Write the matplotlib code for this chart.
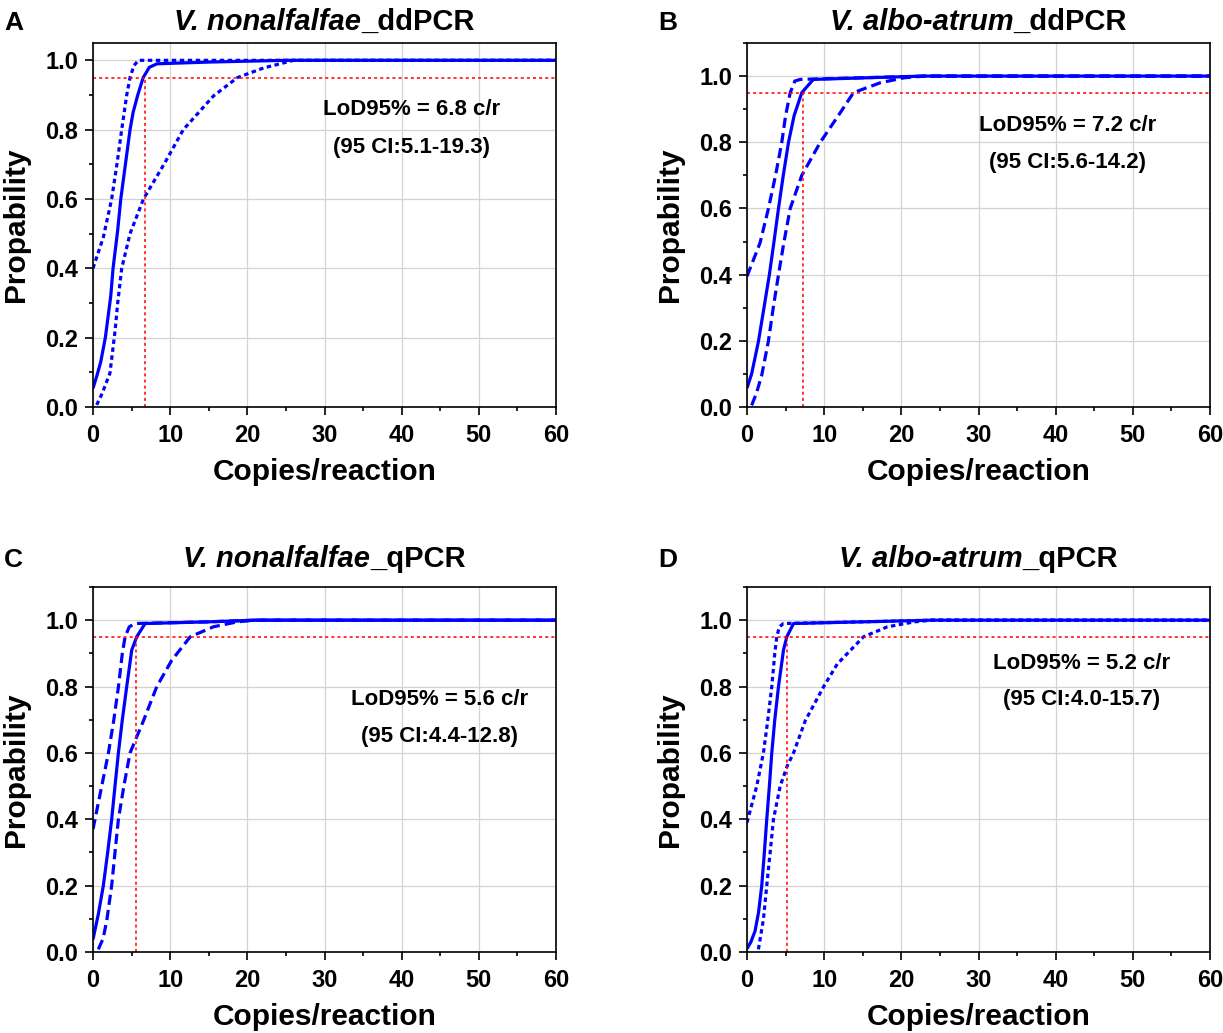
import matplotlib
matplotlib.use("Agg")
import matplotlib.pyplot as plt
from matplotlib.ticker import MultipleLocator

plt.rcParams["font.family"] = ["Liberation Sans", "DejaVu Sans"]
plt.rcParams["font.weight"] = "bold"

# ---- data (x = copies/reaction, y = probability) ----
# panel A : V. nonalfalfae ddPCR
A_mid_x = [0, 0.5, 1.0, 1.6, 2.3, 2.6, 3.2, 3.6, 4.2, 4.8, 5.2, 5.8, 6.5, 7.3, 8.3, 15, 25, 60]
A_mid_y = [0.054, 0.09, 0.13, 0.2, 0.32, 0.4, 0.51, 0.6, 0.7, 0.8, 0.85, 0.9, 0.95, 0.98, 0.99, 0.995, 1.0, 1.0]
A_up_x = [0, 1.34, 2.42, 3.1, 3.72, 4.37, 4.8, 5.3, 5.9, 60]
A_up_y = [0.40, 0.49, 0.6, 0.7, 0.8, 0.9, 0.95, 0.985, 1.0, 1.0]
A_lo_x = [0.48, 1.2, 2.2, 2.86, 3.2, 3.72, 4.8, 6.54, 9.3, 11.7, 15.6, 18.7, 22.1, 26, 60]
A_lo_y = [0.006, 0.04, 0.098, 0.22, 0.3, 0.4, 0.5, 0.6, 0.704, 0.8, 0.897, 0.95, 0.978, 1.0, 1.0]

# panel B : V. albo-atrum ddPCR
B_mid_x = [0, 0.6, 1.48, 2.2, 2.9, 3.5, 4.08, 4.7, 5.38, 6.1, 7.1, 8.6, 20, 23, 60]
B_mid_y = [0.057, 0.1, 0.198, 0.3, 0.4, 0.5, 0.6, 0.7, 0.8, 0.88, 0.95, 0.99, 0.998, 1.0, 1.0]
B_up_x = [0, 1.69, 2.78, 3.7, 4.51, 5.0, 5.6, 6.2, 6.9, 15, 23, 60]
B_up_y = [0.395, 0.496, 0.6, 0.7, 0.8, 0.88, 0.95, 0.985, 0.99, 0.995, 1.0, 1.0]
B_lo_x = [0.6, 1.2, 1.9, 2.78, 3.4, 4.08, 4.8, 5.6, 7.1, 9.5, 12.1, 13.8, 17.3, 20.4, 23, 60]
B_lo_y = [0.005, 0.04, 0.095, 0.2, 0.3, 0.4, 0.5, 0.6, 0.7, 0.8, 0.89, 0.95, 0.98, 0.995, 1.0, 1.0]

# panel C : V. nonalfalfae qPCR
C_mid_x = [0, 0.69, 1.34, 1.9, 2.42, 2.85, 3.29, 3.8, 4.37, 5.02, 5.67, 6.75, 15, 21, 60]
C_mid_y = [0.038, 0.114, 0.2, 0.3, 0.4, 0.5, 0.6, 0.7, 0.8, 0.91, 0.95, 0.99, 0.995, 1.0, 1.0]
C_up_x = [0, 1.13, 2.0, 2.7, 3.3, 3.8, 4.16, 4.7, 5.45, 15, 21, 60]
C_up_y = [0.37, 0.5, 0.6, 0.7, 0.8, 0.9, 0.95, 0.98, 0.99, 0.995, 1.0, 1.0]
C_lo_x = [0.69, 1.3, 1.78, 2.42, 2.85, 3.29, 4.0, 4.8, 6.54, 8.27, 10.2, 12.6, 15.6, 18.7, 21, 60]
C_lo_y = [0.008, 0.04, 0.094, 0.2, 0.3, 0.4, 0.5, 0.6, 0.697, 0.8, 0.879, 0.95, 0.98, 0.995, 1.0, 1.0]

# panel D : V. albo-atrum qPCR
D_mid_x = [0, 0.5, 1.04, 1.5, 1.91, 2.25, 2.56, 2.9, 3.21, 3.6, 4.08, 4.73, 5.16, 6.03, 15, 24, 60]
D_mid_y = [0.01, 0.03, 0.063, 0.12, 0.2, 0.3, 0.4, 0.5, 0.6, 0.7, 0.8, 0.91, 0.95, 0.99, 0.995, 1.0, 1.0]
D_up_x = [0, 1.26, 2.13, 2.7, 3.21, 3.6, 3.86, 4.2, 4.73, 15, 24, 60]
D_up_y = [0.39, 0.5, 0.6, 0.7, 0.8, 0.9, 0.95, 0.98, 0.99, 0.995, 1.0, 1.0]
D_lo_x = [1.48, 2.13, 2.56, 3.0, 3.43, 4.3, 5.2, 6.03, 7.55, 9.94, 11.7, 15.1, 18.2, 21.7, 24, 60]
D_lo_y = [0.008, 0.099, 0.2, 0.3, 0.4, 0.5, 0.56, 0.6, 0.697, 0.8, 0.868, 0.95, 0.98, 0.995, 1.0, 1.0]

letters = ["A", "B", "C", "D"]
species = ["V. nonalfalfae", "V. albo-atrum", "V. nonalfalfae", "V. albo-atrum"]
methods = ["_ddPCR", "_ddPCR", "_qPCR", "_qPCR"]
lod = [6.8, 7.2, 5.6, 5.2]
ci_low = [5.1, 5.6, 4.4, 4.0]
ci_high = [19.3, 14.2, 12.8, 15.7]
ymax = [1.05, 1.1, 1.1, 1.1]


def draw_panel(fig, ax, i, mid, up, lo, dash):
    ax.grid(True, color="#d3d3d3", linewidth=0.9)
    ax.set_axisbelow(True)

    ax.plot(mid[0], mid[1], color="#0000ff", linewidth=2.3, solid_capstyle="butt")
    ax.plot(up[0], up[1], color="#0000ff", linewidth=2.3, linestyle=(0, dash))
    ax.plot(lo[0], lo[1], color="#0000ff", linewidth=2.3, linestyle=(0, dash))

    # LoD95 guide lines
    ax.plot([0, 60], [0.95, 0.95], color="#ff0000", linewidth=1.1, linestyle=(0, (2, 2)))
    ax.plot([lod[i], lod[i]], [0, 0.95], color="#ff0000", linewidth=1.1, linestyle=(0, (2, 2)))

    ax.set_xlim(0, 60)
    ax.set_ylim(0, ymax[i])
    ax.xaxis.set_major_locator(MultipleLocator(10))
    ax.xaxis.set_minor_locator(MultipleLocator(5))
    ax.yaxis.set_minor_locator(MultipleLocator(0.1))
    ax.set_yticks([0, 0.2, 0.4, 0.6, 0.8, 1.0])
    ax.yaxis.set_major_formatter(plt.FuncFormatter(lambda v, p: "%.1f" % v))

    ax.tick_params(which="major", direction="out", length=5.8, width=1.2, labelsize=17)
    ax.tick_params(which="minor", direction="out", length=3.2, width=1.2)
    ax.tick_params(axis="y", pad=5)
    ax.tick_params(axis="x", pad=6.5)
    for s in ax.spines.values():
        s.set_linewidth(1.2)

    ax.set_xlabel("Copies/reaction", fontsize=21.5, fontweight="bold")
    ax.set_ylabel("Propability", fontsize=21.5, fontweight="bold")
    ax.xaxis.set_label_coords(0.5, -0.14)
    ax.yaxis.set_label_coords(-0.135, 0.5)

    tx = [41.3, 41.5, 44.9, 43.4][i]
    ty = [0.858, 0.85, 0.76, 0.87][i]
    ax.text(tx, ty, "LoD95%% = %.1f c/r" % lod[i], ha="center", va="center", fontsize=16, fontweight="bold")
    ax.text(tx, ty - 0.11, "(95 CI:%.1f-%.1f)" % (ci_low[i], ci_high[i]), ha="center", va="center",
            fontsize=16, fontweight="bold")

    # title: italic species + upright method, centred above the axes
    t1 = ax.text(0, 0, species[i], transform=ax.transAxes, fontsize=21, fontweight="bold",
                 style="italic", ha="left", va="baseline")
    t2 = ax.text(0, 0, methods[i], transform=ax.transAxes, fontsize=21, fontweight="bold",
                 ha="left", va="baseline")
    fig.canvas.draw()
    r = fig.canvas.get_renderer()
    w1 = t1.get_window_extent(r).width
    w2 = t2.get_window_extent(r).width
    axw = ax.get_window_extent(r).width
    axh = ax.get_window_extent(r).height
    x0 = 0.5 - (w1 + w2) / 2 / axw
    yb = 1 + [13, 13, 20, 20][i] / axh
    t1.set_position((x0, yb))
    t2.set_position((x0 + w1 / axw, yb))

    ax.text(-0.192, yb, letters[i], transform=ax.transAxes, fontsize=19, fontweight="bold",
            ha="left", va="baseline")


def main():
    fig = plt.figure(figsize=(12.23, 10.33), dpi=100)
    W, H = 1223.0, 1033.0
    boxes = [(93, 43, 407), (747, 43, 407), (93, 587, 952), (747, 587, 952)]
    axes = []
    for left, top, bottom in boxes:
        axes.append(fig.add_axes([left / W, 1 - bottom / H, 463 / W, (bottom - top) / H]))

    dotted = (1.4, 1.1)
    dashed = (3.2, 1.6)
    draw_panel(fig, axes[0], 0, (A_mid_x, A_mid_y), (A_up_x, A_up_y), (A_lo_x, A_lo_y), dotted)
    draw_panel(fig, axes[1], 1, (B_mid_x, B_mid_y), (B_up_x, B_up_y), (B_lo_x, B_lo_y), dashed)
    draw_panel(fig, axes[2], 2, (C_mid_x, C_mid_y), (C_up_x, C_up_y), (C_lo_x, C_lo_y), dashed)
    draw_panel(fig, axes[3], 3, (D_mid_x, D_mid_y), (D_up_x, D_up_y), (D_lo_x, D_lo_y), dotted)

    fig.savefig("out.png", dpi=100)


if __name__ == "__main__":
    main()
